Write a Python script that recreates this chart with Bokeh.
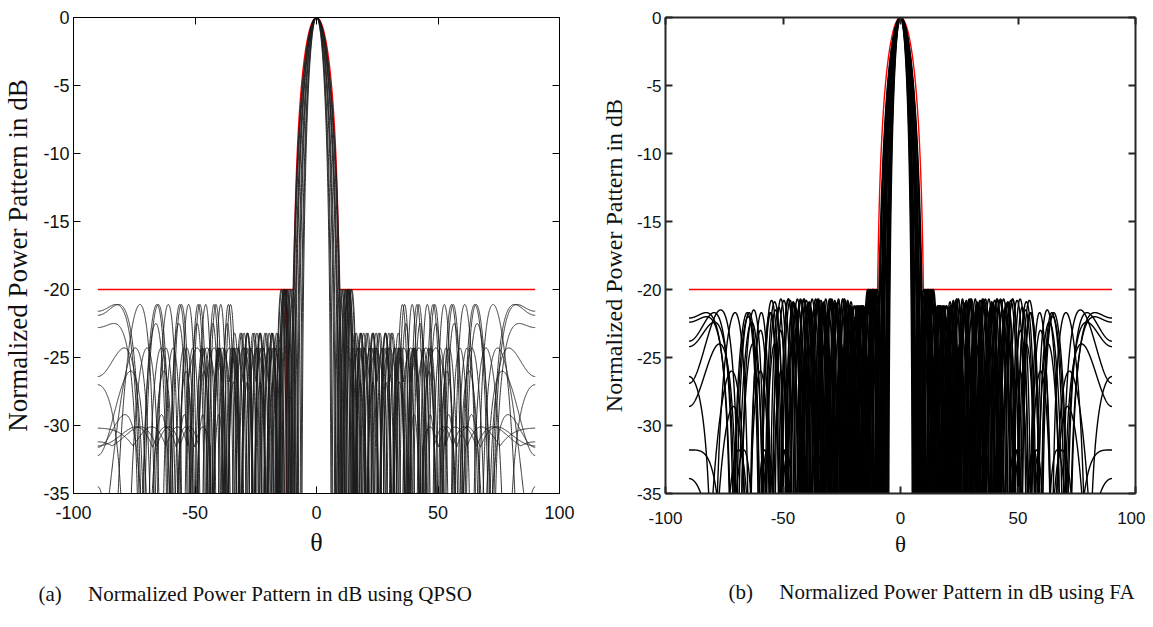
import numpy as np
from bokeh.plotting import figure
from bokeh.layouts import row
from bokeh.models import Range1d, FixedTicker, LinearAxis, Title
from bokeh.embed import file_html
from bokeh.resources import INLINE

# ---------------- axes ----------------
X_TICKS = [-100, -50, 0, 50, 100]
Y_TICKS = [0, -5, -10, -15, -20, -25, -30, -35]
THETA_DEG = np.linspace(-90.0, 90.0, 3601)

# ---------------- red masks ----------------
MASK_SLL_DB = -20.0
QPSO_MASK_NULL_DEG = 10.0
QPSO_MASK_NOTCH = [[-12.3], -20.0, -35.0]        # angles, top dB, bottom dB
FA_MASK_NULL_DEG = 10.4
FA_MASK_NOTCH = [[-10.5, 10.3], -20.0, -28.5]

# ---------------- (a) QPSO patterns (one entry per curve) ----------------
QPSO_NULL_DEG = [6.2, 7.0, 7.8, 8.6, 9.4, 10.0, 10.6, 11.2, 6.6, 8.2, 9.7, 10.9]
QPSO_PERIOD_U = [0.080, 0.082, 0.079, 0.084, 0.081, 0.083, 0.080, 0.085, 0.082, 0.078, 0.084, 0.081]
QPSO_END_DB = [-21.6, -21.9, -22.8, -26.4, -27.0, -32.2, -34.5, -30.2, -31.2, -31.5, -31.6, -40.0]
QPSO_B1_DEG = 15.0
QPSO_B2_DEG = [35, 34, 36, 40, 38, 30, 35, 52, 48, 45, 38, 30]
QPSO_B3_DEG = [35, 34, 36, 40, 38, 42, 35, 52, 48, 45, 38, 55]
QPSO_R1_DB = [-20.0] * 12
QPSO_R2_PEAK_DB = [-23.2, -23.2, -23.2, -24.3, -24.3, -23.2, -23.2, -24.3, -24.3, -24.3, -26.8, -23.2]
QPSO_R2_FLOOR_DB = [-99, -99, -99, -99, -99, -99, -99, -26.8, -26.8, -99, -99, -99]
QPSO_R3_PEAK_DB = [-21.1, -21.1, -22.5, -24.3, -24.3, -24.3, -21.1, -30.1, -30.1, -30.1, -29.2, -24.3]
QPSO_R3_FLOOR_DB = [-99] * 12
QPSO_R4_PEAK_DB = [-21.1, -21.1, -22.5, -24.3, -24.3, -26.0, -21.1, -30.1, -30.1, -30.1, -29.2, -24.3]
QPSO_R4_FLOOR_DB = [-99, -99, -99, -99, -99, -99, -99, -31.5, -31.5, -31.6, -99, -99]

# ---------------- (b) FA patterns ----------------
FA_NULL_DEG = [5.2, 5.8, 6.4, 7.0, 7.6, 8.2, 8.8, 9.4, 10.0, 10.6, 5.5, 6.7, 7.9, 9.1, 10.3, 6.1, 8.5]
FA_PERIOD_U = [0.084, 0.087, 0.081, 0.089, 0.083, 0.086, 0.085, 0.088, 0.082, 0.086, 0.080, 0.090, 0.083, 0.087, 0.084, 0.088, 0.085]
FA_END_DB = [-22.1, -22.4, -23.8, -24.2, -26.4, -26.9, -28.6, -40.0, -31.8, -33.9, -45.0, -45.0, -50.0, -42.0, -36.0, -40.0, -37.0]
FA_B1_DEG = 14.0
FA_B2_DEG = [22, 22, 23, 21, 22, 22, 22, 22, 30, 32, 20, 22, 21, 23, 22, 22, 25]
FA_B3_DEG = [55, 57, 52, 58, 55, 50, 45, 48, 65, 62, 50, 54, 56, 46, 60, 40, 60]
FA_R1_DB = [-20.0] * 17
FA_R2_PEAK_DB = [-21.2, -21.2, -21.2, -21.2, -21.2, -21.2, -21.2, -21.2, -24.0, -25.0, -21.2, -21.2, -21.2, -22.0, -24.5, -21.2, -28.5]
FA_R2_FLOOR_DB = [-99, -99, -99, -99, -99, -99, -28.5, -28.5, -99, -99, -99, -99, -99, -99, -99, -99, -99]
FA_R3_PEAK_DB = [-20.7, -20.8, -20.7, -20.9, -20.7, -21.0, -21.0, -21.5, -31.8, -31.8, -21.0, -20.8, -21.3, -20.7, -23.0, -22.0, -32.0]
FA_R3_FLOOR_DB = [-99] * 17
FA_R4_PEAK_DB = [-21.7, -22.0, -21.7, -22.4, -21.7, -21.5, -24.0, -26.0, -31.8, -31.8, -38.0, -38.0, -38.0, -38.0, -28.6, -38.0, -38.0]
FA_R4_FLOOR_DB = [-99] * 17

NB = "\u00a0" * 5
CAPTION_A = "(a)" + NB + "Normalized Power Pattern in dB using QPSO"
CAPTION_B = "(b)" + NB + "Normalized Power Pattern in dB using FA"
Y_LABEL = "Normalized Power Pattern in dB"
X_LABEL = "\u03b8"


def lin(db):
    return 0.0 if db <= -90 else 10 ** (db / 20.0)


def curve(theta, null_deg, p, end_db, bounds, peaks, floors):
    u = np.abs(np.sin(np.radians(theta)))
    th = np.abs(theta)
    x = np.clip(th / null_deg, 0, 1)
    main = 30 * np.log10(np.maximum(np.cos(np.pi / 2 * x), 1e-6))
    A4, T4 = lin(peaks[3]), lin(floors[3])
    s = np.clip((lin(end_db) - T4) / (A4 - T4), 0, 1)
    f = np.arcsin(s) / np.pi
    u_start = np.sin(np.radians(null_deg))
    cands = []
    for ff in (f, 1 - f):
        n = np.floor((1 - u_start) / p - ff)
        cands.append(1 - p * (n + ff))
    u0 = min(cands)
    t = (u - u0) / p
    j = np.floor(t)
    ft = t - j
    uc = np.clip(u0 + (j + 0.5) * p, 0, 1)
    cdeg = np.degrees(np.arcsin(uc))
    idx = np.searchsorted(np.array(bounds, dtype=float), cdeg)
    A = np.array([lin(v) for v in peaks])[idx]
    T = np.array([lin(v) for v in floors])[idx]
    amp = T + (A - T) * np.abs(np.sin(np.pi * ft))
    amp[u < u0] = 0.0
    side = 20 * np.log10(np.maximum(amp, 1e-6))
    return np.clip(np.maximum(main, side), -80, 0)


def family(null, per, end, b1, b2, b3, r1, r2p, r2f, r3p, r3f, r4p, r4f):
    ys = []
    for i in range(len(null)):
        ys.append(curve(THETA_DEG, null[i], per[i], end[i], [b1, b2[i], b3[i]],
                        [r1[i], r2p[i], r3p[i], r4p[i]], [-99, r2f[i], r3f[i], r4f[i]]))
    return ys


def mask(theta, null_deg):
    x = np.clip(np.abs(theta) / null_deg, 0, 1)
    beam = 20 * np.log10(np.maximum(np.cos(np.pi / 2 * x), 1e-6))
    return np.maximum(beam, MASK_SLL_DB)


def make_fig(width, border_left, border_right, border_bottom, frame_col, frame_w,
             tick_font, ylabel_font, xlabel_font, ylab_stand, xlab_stand, xtick_stand):
    p = figure(width=width, height=627, x_range=Range1d(-100, 100), y_range=Range1d(-35, 0),
               output_backend="svg", toolbar_location=None,
               min_border_left=border_left, min_border_right=border_right,
               min_border_top=17, min_border_bottom=border_bottom)
    p.grid.visible = False
    p.outline_line_color = None
    for ax in (p.xaxis[0], p.yaxis[0]):
        ax.major_tick_in = 7
        ax.major_tick_out = 0
        ax.minor_tick_line_color = None
        ax.axis_line_color = frame_col
        ax.axis_line_width = frame_w
        ax.major_tick_line_color = frame_col
        ax.major_tick_line_width = frame_w
        ax.major_label_text_font = "Liberation Sans"
        ax.major_label_text_font_size = tick_font
        ax.major_label_text_color = "#111111"
        ax.axis_label_text_font = "Liberation Serif"
        ax.axis_label_text_font_style = "normal"
        ax.axis_label_text_color = "#111111"
    p.xaxis.ticker = FixedTicker(ticks=X_TICKS)
    p.yaxis.ticker = FixedTicker(ticks=Y_TICKS)
    p.xaxis.major_label_overrides = {t: str(t) for t in X_TICKS}
    p.yaxis.major_label_overrides = {t: str(t) for t in Y_TICKS}
    p.xaxis.major_label_standoff = xtick_stand
    p.yaxis.major_label_standoff = 4
    p.xaxis.axis_label = X_LABEL
    p.yaxis.axis_label = Y_LABEL
    p.xaxis.axis_label_text_font_size = xlabel_font
    p.yaxis.axis_label_text_font_size = ylabel_font
    p.yaxis.axis_label_standoff = ylab_stand
    p.xaxis.axis_label_standoff = xlab_stand
    for loc, ticks in (("above", X_TICKS), ("right", Y_TICKS)):
        ax = LinearAxis(ticker=FixedTicker(ticks=ticks), major_tick_in=7, major_tick_out=0,
                        minor_tick_line_color=None, axis_line_color=frame_col,
                        axis_line_width=frame_w, major_tick_line_color=frame_col,
                        major_tick_line_width=frame_w, major_label_text_font_size="1px",
                        major_label_text_color=None, major_label_standoff=0)
        p.add_layout(ax, loc)
    return p


def caption(p, text, offset, standoff):
    p.add_layout(Title(text=text, align="left", offset=offset, standoff=standoff,
                       text_font="Liberation Serif", text_font_size="21px",
                       text_font_style="normal", text_color="#111111"), "below")


def notch(p, spec, width):
    for a in spec[0]:
        p.line([a, a], spec[1:], color="#ff0000", line_width=width)


# ---------------- panel (a) ----------------
pa = make_fig(597, 72, 38, 132, "#000000", 1, "18px", "27px", "26px", 7, 6, 12)
qy = family(QPSO_NULL_DEG, QPSO_PERIOD_U, QPSO_END_DB, QPSO_B1_DEG, QPSO_B2_DEG, QPSO_B3_DEG,
            QPSO_R1_DB, QPSO_R2_PEAK_DB, QPSO_R2_FLOOR_DB, QPSO_R3_PEAK_DB, QPSO_R3_FLOOR_DB,
            QPSO_R4_PEAK_DB, QPSO_R4_FLOOR_DB)
pa.line(THETA_DEG, mask(THETA_DEG, QPSO_MASK_NULL_DEG), color="#ff0000", line_width=1.3)
notch(pa, QPSO_MASK_NOTCH, 1.2)
pa.multi_line([THETA_DEG] * len(qy), qy, color="#1c1c1c", line_width=0.9)
caption(pa, CAPTION_A, -35, 40)

# ---------------- panel (b) ----------------
pb = make_fig(548, 64, 10, 134, "#262626", 2, "17px", "24px", "23px", 7, 5, 18)
fy = family(FA_NULL_DEG, FA_PERIOD_U, FA_END_DB, FA_B1_DEG, FA_B2_DEG, FA_B3_DEG,
            FA_R1_DB, FA_R2_PEAK_DB, FA_R2_FLOOR_DB, FA_R3_PEAK_DB, FA_R3_FLOOR_DB,
            FA_R4_PEAK_DB, FA_R4_FLOOR_DB)
pb.line(THETA_DEG, mask(THETA_DEG, FA_MASK_NULL_DEG), color="#ff0000", line_width=1.4)
notch(pb, FA_MASK_NOTCH, 1.4)
pb.multi_line([THETA_DEG] * len(fy), fy, color="#000000", line_width=1.4)
caption(pb, CAPTION_B, 63, 36)

layout = row(pa, pb)
open("out.html", "w").write(file_html(layout, INLINE))
